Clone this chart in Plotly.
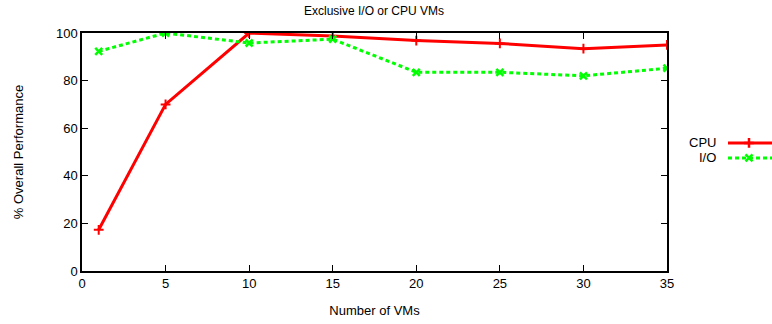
import plotly.graph_objects as go

# Number of VMs on the x axis
vms = [1, 5, 10, 15, 20, 25, 30, 35]
# % overall performance for each workload type
cpu_perf = [17.3, 70.0, 100.0, 98.7, 96.8, 95.6, 93.4, 95.0]
io_perf = [92.3, 100.0, 95.8, 97.4, 83.5, 83.5, 82.0, 85.2]

x_ticks = [0, 5, 10, 15, 20, 25, 30, 35]
y_ticks = [0, 20, 40, 60, 80, 100]

series_names = ["CPU", "I/O"]
series_colors = ["#ff0000", "#00ff00"]

FONT = "Liberation Sans, Arial, sans-serif"
PW = 683.0  # width of the plotting paper in pixels


def px(x):
    """Convert a pixel column on the page into paper coordinates."""
    return (x - 82) / PW


fig = go.Figure()

fig.add_trace(go.Scatter(
    x=vms, y=cpu_perf, mode="lines+markers", name=series_names[0],
    line=dict(color=series_colors[0], width=3),
    marker=dict(symbol="cross-thin", size=7, line=dict(color=series_colors[0], width=2)),
    showlegend=False,
))
fig.add_trace(go.Scatter(
    x=vms, y=io_perf, mode="lines+markers", name=series_names[1],
    line=dict(color=series_colors[1], width=3, dash="4px,3px"),
    marker=dict(symbol="x-thin", size=7, line=dict(color=series_colors[1], width=2.5)),
    showlegend=False,
))

# Gnuplot-style key: label on the left, line sample on the right
key_rows = [0.538, 0.475]
for name, color, yrow, dash, sym in zip(series_names, series_colors, key_rows,
                                        ["solid", "4px,3px"], ["cross-thin", "x-thin"]):
    fig.add_shape(
        type="line", xref="paper", yref="paper",
        x0=px(728), x1=px(775), y0=yrow, y1=yrow,
        line=dict(color=color, width=3, dash=dash),
    )
    fig.add_trace(go.Scatter(
        x=[0.5], y=[yrow], xaxis="x2", yaxis="y2", mode="markers",
        marker=dict(symbol=sym, size=7, line=dict(color=color, width=2.5)),
        showlegend=False, hoverinfo="skip", cliponaxis=False,
    ))
    fig.add_annotation(
        x=px(718), y=yrow, xref="paper", yref="paper", text=name,
        showarrow=False, xanchor="right", yanchor="middle",
        font=dict(family=FONT, size=13, color="#000"),
    )

axis_common = dict(
    showgrid=False, zeroline=False, showline=True, linecolor="#000", linewidth=1.5,
    mirror="ticks", ticks="inside", ticklen=6, tickcolor="#000", tickwidth=1,
    tickfont=dict(family=FONT, size=13, color="#000"),
)

fig.update_layout(
    width=772, height=324,
    margin=dict(l=82, r=0, t=33, b=53),
    paper_bgcolor="white", plot_bgcolor="white",
    title=dict(text="Exclusive I/O or CPU VMs", x=374 / 772,
               xanchor="center", y=0.966, yanchor="middle",
               font=dict(family=FONT, size=12, color="#000")),
    xaxis=dict(range=[0, 35], tickvals=x_ticks, domain=[0, px(667)],
               title=dict(text="Number of VMs", font=dict(family=FONT, size=13, color="#000"),
                          standoff=16),
               **axis_common),
    yaxis=dict(range=[0, 100], tickvals=y_ticks,
               title=dict(text="% Overall Performance", font=dict(family=FONT, size=13, color="#000"),
                          standoff=29),
               **axis_common),
    xaxis2=dict(domain=[px(739), px(759)], range=[0, 1], visible=False, anchor="y2"),
    yaxis2=dict(domain=[0, 1], range=[0, 1], visible=False, anchor="x2"),
)

fig.write_html("out.html")
